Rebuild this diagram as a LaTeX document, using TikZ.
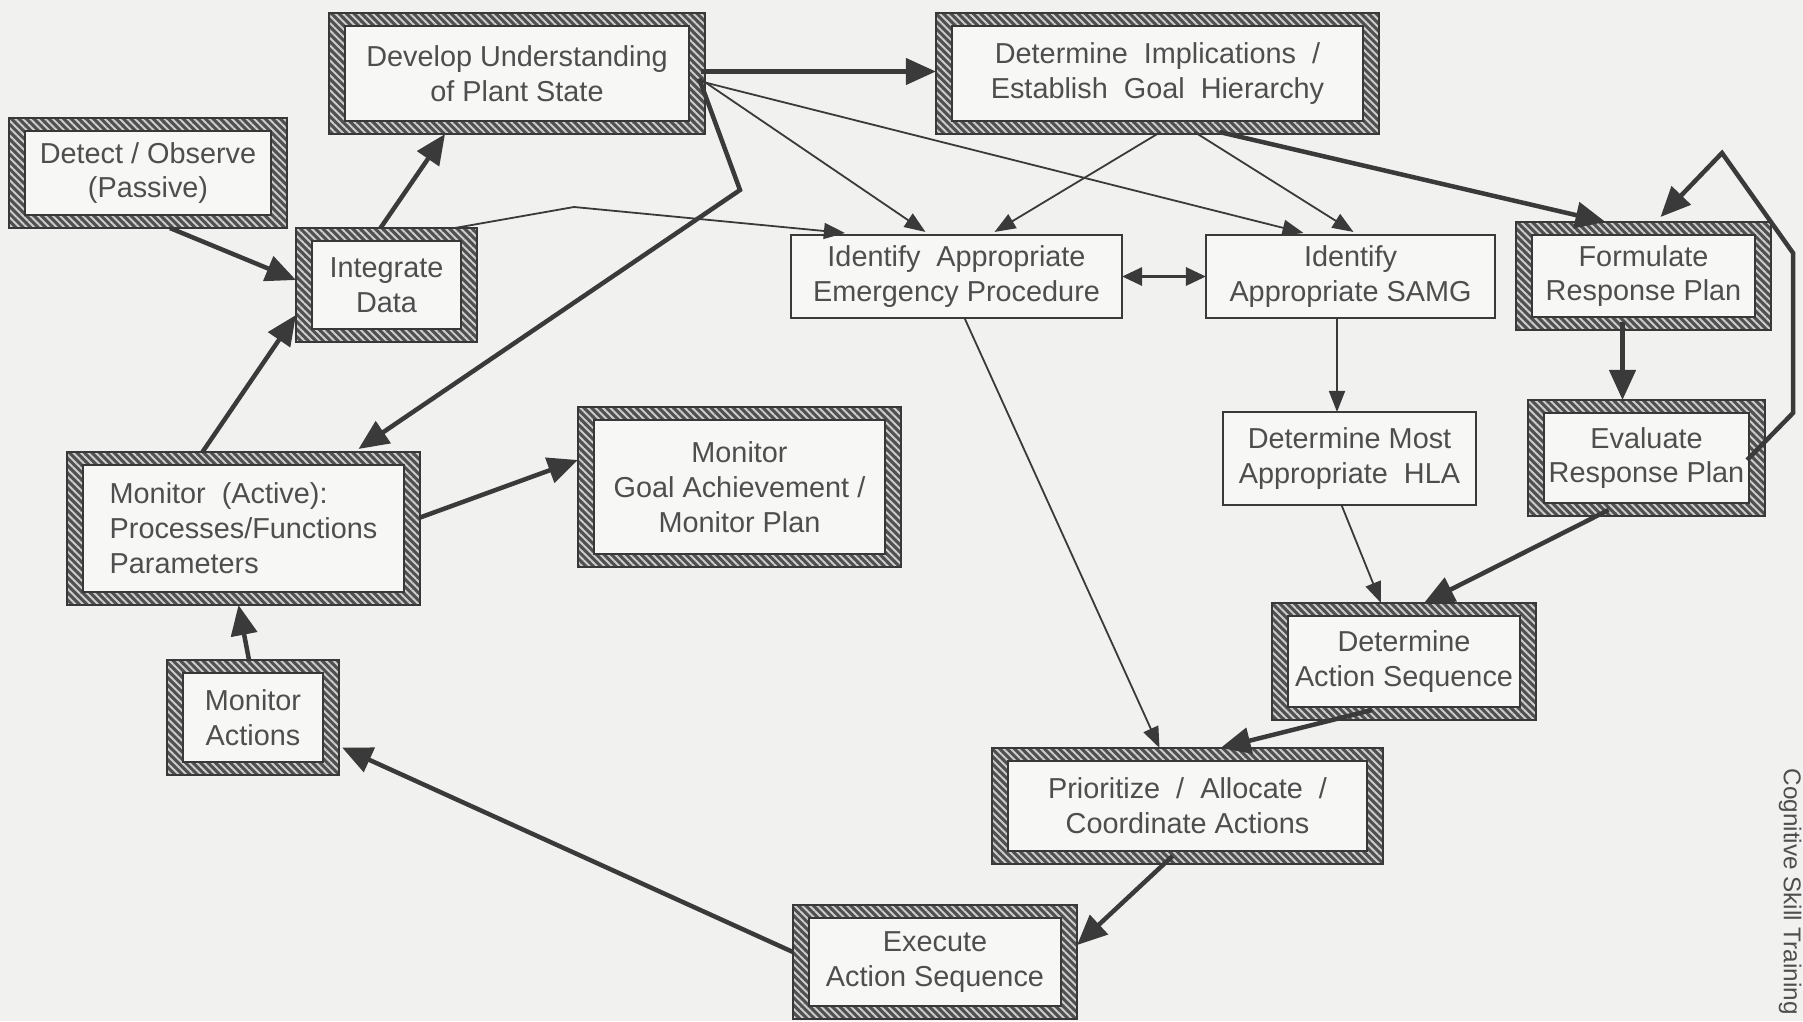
\documentclass[tikz,border=0pt]{standalone}
\usepackage{fontspec}
\setmainfont{Liberation Sans}
\usetikzlibrary{arrows.meta,patterns.meta}
\definecolor{bg}{RGB}{241,241,239}
\definecolor{ink}{RGB}{58,58,58}
\definecolor{txt}{RGB}{78,78,78}
\definecolor{framedark}{RGB}{80,80,80}
\definecolor{framelight}{RGB}{205,205,205}
\definecolor{boxfill}{RGB}{247,247,246}
\tikzset{
  lbl/.style={font=\fontsize{8.2}{9.9}\selectfont, text=txt, align=center, inner sep=0pt, outer sep=0pt},
  hbox/.style={lbl, fill=boxfill},
  tbox/.style={lbl, fill=boxfill, draw=ink, line width=0.02cm},
  thickarrow/.style={draw=ink, line width=0.045cm, -{Triangle[length=0.30cm,width=0.26cm]}},
  thinarrow/.style={draw=ink, line width=0.018cm, -{Triangle[length=0.21cm,width=0.16cm]}},
  dblarrow/.style={draw=ink, line width=0.03cm, {Triangle[length=0.2cm,width=0.18cm]}-{Triangle[length=0.2cm,width=0.18cm]}},
  framefill/.style={fill=framedark, even odd rule},
  framehatch/.style={pattern={Lines[angle=-45,distance=1.5pt,line width=0.55pt]}, pattern color=framelight, even odd rule},
  frameline/.style={draw=framedark!70!black, line width=0.015cm},
}
\newcommand\hatchframe[1]{%
  \path[framefill] (#1.north west) rectangle (#1.south east)
    ([shift={(16,13)}]#1.north west) rectangle ([shift={(-16,-13)}]#1.south east);
  \path[framehatch] (#1.north west) rectangle (#1.south east)
    ([shift={(16,13)}]#1.north west) rectangle ([shift={(-16,-13)}]#1.south east);
  \draw[frameline] (#1.north west) rectangle (#1.south east);
  \draw[frameline] ([shift={(16,13)}]#1.north west) rectangle ([shift={(-16,-13)}]#1.south east);
}
\begin{document}
\begin{tikzpicture}[x=0.01cm,y=-0.01cm]
\useasboundingbox (0,0) rectangle (1803,1021);
\fill[bg] (0,0) rectangle (1803,1021);

% boxes with hatched frames
\node[hbox, minimum width=3.76cm, minimum height=1.21cm] (dev) at (517,73.5) {Develop Understanding\\of Plant State};
\node[hbox, minimum width=4.43cm, minimum height=1.21cm] (det) at (1157.5,73.5) {Determine~ Implications~ /\\Establish~ Goal~ Hierarchy};
\node[hbox, minimum width=2.78cm, minimum height=1.10cm] (detect) at (148,173) {Detect / Observe\\(Passive)};
\node[hbox, minimum width=1.81cm, minimum height=1.14cm] (integ) at (386.5,285) {Integrate\\Data};
\node[hbox, minimum width=2.55cm, minimum height=1.08cm] (form) at (1643.5,276) {Formulate\\Response Plan};
\node[hbox, minimum width=2.37cm, minimum height=1.16cm] (eval) at (1646.5,458) {Evaluate\\Response Plan};
\node[hbox, align=left, minimum width=3.53cm, minimum height=1.53cm] (mact) at (243.5,528.5) {Monitor~ (Active):\\Processes/Functions\\Parameters};
\node[hbox, minimum width=3.23cm, minimum height=1.60cm] (goal) at (739.5,487) {Monitor\\Goal Achievement /\\Monitor Plan};
\node[hbox, minimum width=1.72cm, minimum height=1.15cm] (mon) at (253,717.5) {Monitor\\Actions};
\node[hbox, minimum width=2.64cm, minimum height=1.17cm] (aseq) at (1404,661.5) {Determine\\Action Sequence};
\node[hbox, minimum width=3.91cm, minimum height=1.16cm] (prio) at (1187.5,806) {Prioritize~ /~ Allocate~ /\\Coordinate Actions};
\node[hbox, minimum width=2.84cm, minimum height=1.14cm] (exec) at (935,962) {Execute\\Action Sequence};

% plain boxes
\node[tbox, minimum width=3.31cm, minimum height=0.83cm] (emerg) at (956.5,276.5) {Identify~ Appropriate\\Emergency Procedure};
\node[tbox, minimum width=2.89cm, minimum height=0.83cm] (samg) at (1350.5,276.5) {Identify\\Appropriate SAMG};
\node[tbox, minimum width=2.53cm, minimum height=0.93cm] (hla) at (1349.5,458.5) {Determine Most\\Appropriate~ HLA};

\foreach \n in {dev,det,detect,integ,form,eval,mact,goal,mon,aseq,prio,exec}{\hatchframe{\n}}

% bend points
\coordinate (k1) at (740,190);
\coordinate (k2) at (574,207);
\coordinate (l1) at (1793,413);
\coordinate (l2) at (1793,253);
\coordinate (l3) at (1722,153);

% connectors
\draw[thickarrow] ([shift={(22,0)}]detect.south) -- ([shift={(0,-5)}]integ.west);
\draw[thickarrow] ([shift={(-6,0)}]integ.north) -- ([shift={(-72,0)}]dev.south);
\draw[thickarrow] ([shift={(-41,0)}]mact.north) -- ([shift={(0,30)}]integ.west);
\draw[thinarrow] ([shift={(-22,0)}]integ.north east) -- (k2) -- ([shift={(54,-2)}]emerg.north west);
\draw[thickarrow] ([shift={(-4,-2)}]dev.east) -- ([shift={(0,-2)}]det.west);
\draw[thinarrow] ([shift={(-4,6)}]dev.east) -- ([shift={(-31,-3)}]emerg.north);
\draw[thinarrow] ([shift={(-4,8)}]dev.east) -- ([shift={(-47,-2)}]samg.north);
\draw[thickarrow] ([shift={(-6,5)}]dev.east) -- (k1) -- ([shift={(115,-3)}]mact.north);
\draw[thinarrow] ([shift={(3,-2)}]det.south) -- ([shift={(38,-3)}]emerg.north);
\draw[thinarrow] ([shift={(37,-2)}]det.south) -- ([shift={(3,-3)}]samg.north);
\draw[thickarrow] ([shift={(62,-2)}]det.south) -- ([shift={(-38,0)}]form.north);
\draw[dblarrow] (emerg.east) -- (samg.west);
\draw[thinarrow] ([shift={(-13.5,0)}]samg.south) -- ([shift={(-12.5,0)}]hla.north);
\draw[thickarrow] ([shift={(-21,-8)}]form.south) -- ([shift={(-24,0)}]eval.north);
\draw[thickarrow] ([shift={(-18,2)}]eval.east) -- (l1) -- (l2) -- (l3) -- ([shift={(17,-5)}]form.north);
\draw[thinarrow] ([shift={(-8,0)}]hla.south) -- ([shift={(-23,0)}]aseq.north);
\draw[thickarrow] ([shift={(-38,-6)}]eval.south) -- ([shift={(20,0)}]aseq.north);
\draw[thinarrow] ([shift={(8,0)}]emerg.south) -- ([shift={(-28,0)}]prio.north);
\draw[thickarrow] ([shift={(-32,-10)}]aseq.south) -- ([shift={(33,0)}]prio.north);
\draw[thickarrow] ([shift={(-15,-8)}]prio.south) -- ([shift={(0,-17)}]exec.east);
\draw[thickarrow] ([shift={(0,-10)}]exec.west) -- ([shift={(3,30)}]mon.east);
\draw[thickarrow] ([shift={(-4,0)}]mon.north) -- ([shift={(-5,0)}]mact.south);
\draw[thickarrow] ([shift={(0,-11)}]mact.east) -- ([shift={(0,-27)}]goal.west);

% side caption
\node[rotate=-90, anchor=west, font=\fontsize{6.9}{8}\selectfont, text=txt, inner sep=0pt] (side) at (1790,768) {Cognitive Skill Training};
\end{tikzpicture}
\end{document}
